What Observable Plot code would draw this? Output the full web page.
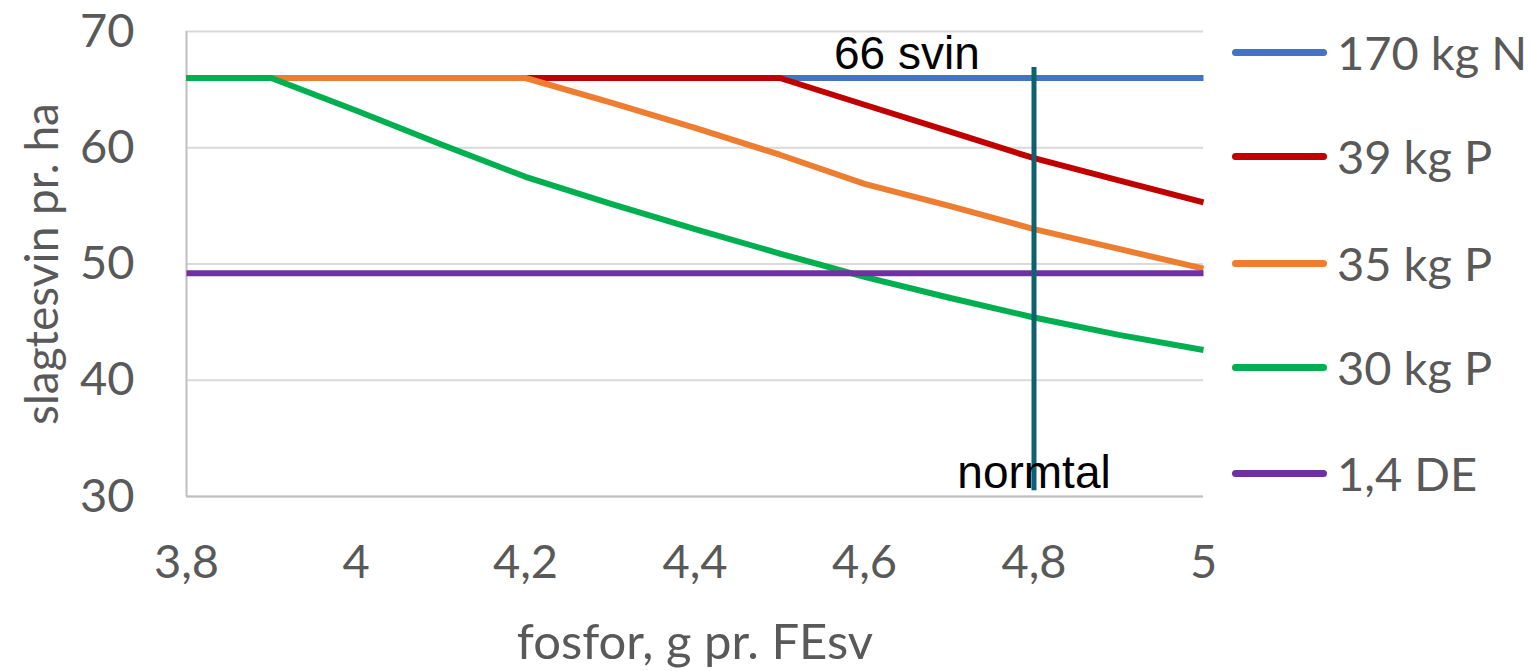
<!DOCTYPE html>
<html>
<head>
<meta charset="utf-8">
<script src="https://cdn.jsdelivr.net/npm/d3@7"></script>
<script src="https://cdn.jsdelivr.net/npm/@observablehq/plot@0.6"></script>
<style>
  html, body { margin: 0; padding: 0; background: #fff; }
  #wrap { position: relative; width: 1533px; height: 671px; overflow: hidden; }
  #legend { position: absolute; left: 1232px; top: 0; font-family: Lato, "Open Sans", sans-serif; font-size: 47px; color: #595959; }
  .item { position: absolute; left: 0; display: flex; align-items: center; white-space: nowrap; transform: translateY(-50%); }
  .swatch { width: 95px; height: 7px; border-radius: 4px; margin-right: 10px; }
</style>
</head>
<body>
<div id="wrap"><div id="chart"></div><div id="legend"></div></div>
<script>
const xs = [3.8, 3.9, 4.0, 4.1, 4.2, 4.3, 4.4, 4.5, 4.6, 4.7, 4.8, 4.9, 5.0];
const series = ["170 kg N", "39 kg P", "35 kg P", "30 kg P", "1,4 DE"];
const colors = ["#4472c4", "#c00000", "#ed7d31", "#00b050", "#7030a0"];
const v170N = [66, 66, 66, 66, 66, 66, 66, 66, 66, 66, 66, 66, 66];
const v39P  = [66, 66, 66, 66, 66, 66, 66, 66, 63.7, 61.4, 59.1, 57.2, 55.3];
const v35P  = [66, 66, 66, 66, 66, 63.9, 61.7, 59.4, 56.9, 55.0, 53.0, 51.3, 49.6];
const v30P  = [66, 66, 63.2, 60.3, 57.5, 55.2, 53.0, 50.9, 48.9, 47.1, 45.4, 43.9, 42.6];
const v14DE = [49.2, 49.2, 49.2, 49.2, 49.2, 49.2, 49.2, 49.2, 49.2, 49.2, 49.2, 49.2, 49.2];
const xTicks = [3.8, 4.0, 4.2, 4.4, 4.6, 4.8, 5.0];
const yTicks = [30, 40, 50, 60, 70];
const normX = 4.8;
const normRange = [30.5, 66.9];
const labels = [
  {x: 4.65, y: 66.8, text: "66 svin"},
  {x: 4.8, y: 30.7, text: "normtal"}
];

const allValues = [v170N, v39P, v35P, v30P, v14DE];
const rows = [];
series.forEach((s, i) => xs.forEach((x, j) => rows.push({series: s, x, y: allValues[i][j]})));

const fmt = d => String(Math.round(d * 10) / 10).replace(".", ",");

const plot = Plot.plot({
  width: 1533,
  height: 671,
  marginLeft: 186,
  marginRight: 330,
  marginTop: 31,
  marginBottom: 175,
  style: {fontFamily: "Lato, 'Open Sans', sans-serif", background: "#fff"},
  x: {domain: [3.8, 5.0], ticks: xTicks, tickFormat: fmt, tickSize: 0, tickPadding: 50, label: null},
  y: {domain: [30, 70], ticks: yTicks, tickSize: 0, tickPadding: 50, label: null},
  color: {domain: series, range: colors},
  marks: [
    Plot.gridY(yTicks, {stroke: "#d9d9d9", strokeOpacity: 1, strokeWidth: 2}),
    Plot.ruleY([30], {stroke: "#bfbfbf", strokeWidth: 2}),
    Plot.ruleX([3.8], {y1: 30, y2: 70, stroke: "#bfbfbf", strokeWidth: 2}),
    Plot.axisX({ticks: xTicks, tickFormat: fmt, tickSize: 0, tickPadding: 48, fontSize: 47, fill: "#595959", label: null}),
    Plot.axisY({ticks: yTicks, tickSize: 0, tickPadding: 52, fontSize: 47, fill: "#595959", label: null}),
    Plot.lineY(rows, {x: "x", y: "y", stroke: "series", z: "series", strokeWidth: 6, strokeLinejoin: "round", strokeLinecap: "butt"}),
    Plot.ruleX([normX], {y1: normRange[0], y2: normRange[1], stroke: "#0e6170", strokeWidth: 5}),
    Plot.text(labels, {x: "x", y: "y", text: "text", fontSize: 46, fill: "#000", lineAnchor: "bottom", fontFamily: "'Liberation Sans', Arial, sans-serif"}),
    Plot.text(["fosfor, g pr. FEsv"], {frameAnchor: "bottom", dy: 147, fontSize: 49, fill: "#595959", lineAnchor: "middle", textAnchor: "middle"}),
    Plot.text(["slagtesvin pr. ha"], {frameAnchor: "left", dx: -143, rotate: -90, fontSize: 46, fill: "#595959", textAnchor: "middle", lineAnchor: "middle"})
  ]
});
document.getElementById("chart").appendChild(plot);

const legendY = [52, 156, 263, 367, 473];
const legend = document.getElementById("legend");
series.forEach((s, i) => {
  const item = document.createElement("div");
  item.className = "item";
  item.style.top = legendY[i] + "px";
  const sw = document.createElement("div");
  sw.className = "swatch";
  sw.style.background = colors[i];
  const t = document.createElement("span");
  t.textContent = s;
  item.appendChild(sw); item.appendChild(t);
  legend.appendChild(item);
});
</script>
</body>
</html>
